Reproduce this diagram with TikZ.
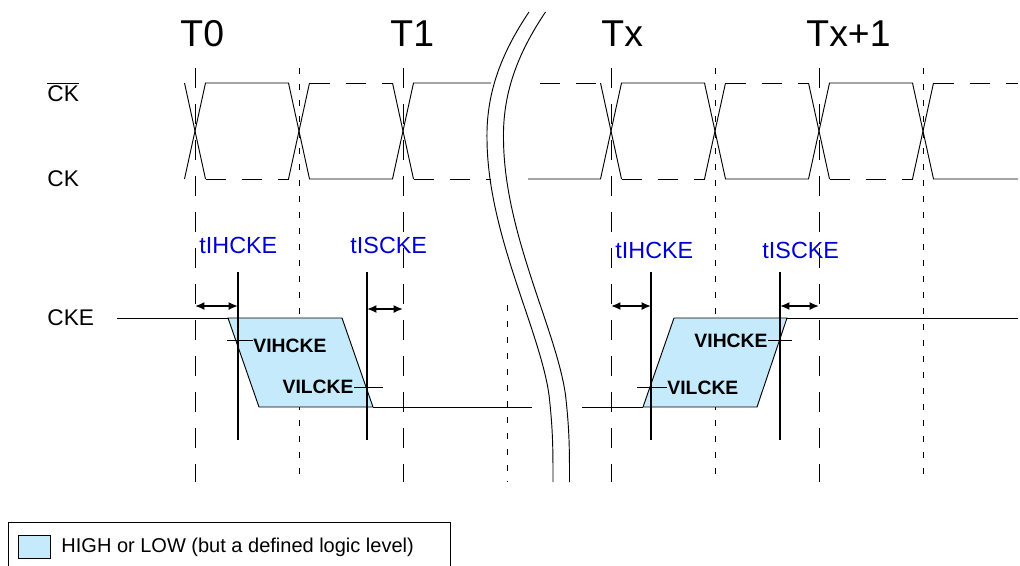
\documentclass[tikz,border=0pt]{standalone}
\usepackage{fontspec}
\setmainfont{Liberation Sans}
\usepackage{tikz}
\usetikzlibrary{arrows.meta,positioning}
\definecolor{levelfill}{RGB}{196,234,251}
\definecolor{timeblue}{RGB}{0,0,210}

\begin{document}
\begin{tikzpicture}[
		x=0.75pt, y=-0.75pt,
		line width=0.7pt,
		clocklbl/.style={inner sep=0pt, anchor=west, font=\fontsize{28}{30}\selectfont},
		siglbl/.style={inner sep=0pt, anchor=west, font=\fontsize{17}{19}\selectfont},
		timelbl/.style={inner sep=0pt, anchor=west, text=timeblue, font=\fontsize{17.5}{19}\selectfont},
		vlbl/.style={inner sep=0pt, font=\bfseries\fontsize{14.5}{16}\selectfont},
		longdash/.style={dash pattern=on 15pt off 12pt},
		shortdash/.style={dash pattern=on 4.5pt off 7.5pt},
		refline/.style={line width=2.2pt},
		span/.style={{Latex[length=7pt,width=6pt]}-{Latex[length=7pt,width=6pt]}, line width=1.3pt},
		level/.style={fill=levelfill}
		]
	\useasboundingbox (0,0) rectangle (1020,565);

	% --- Libellés ---
	\node[clocklbl] (T0) at (180,34) {T0};
	\node[clocklbl] (T1) at (390,34) {T1};
	\node[clocklbl] (Tx) at (601,34) {Tx};
	\node[clocklbl] (Tx1) at (806,34) {Tx+1};
	\node[siglbl] (CKb) at (47,92) {$\overline{\hbox{CK}}$};
	\node[siglbl] (CK) at (47,179) {CK};
	\node[siglbl] (CKE) at (47,318) {CKE};

	% --- Verticales ---
	\draw[longdash] (195,68) -- (195,482);
	\draw[longdash] (403,68) -- (403,482);
	\draw[longdash] (611,68) -- (611,482);
	\draw[longdash] (819,68) -- (819,482);
	\draw[shortdash] (299,68) -- (299,482);
	\draw[shortdash] (507,305) -- (507,482);
	\draw[shortdash] (715,68) -- (715,482);
	\draw[shortdash] (923,68) -- (923,482);

	% --- CK (trait plein) ---
	\draw (184.5,179) -- (205.5,83) -- (288.5,83) -- (309.5,179) -- (392.5,179)
		-- (413.5,83) -- (491,83);
	\draw (528,179) -- (600.5,179) -- (621.5,83) -- (704.5,83) -- (725.5,179)
		-- (808.5,179) -- (829.5,83) -- (912.5,83) -- (933.5,179) -- (1018,179);

	% --- CK# (paliers en tirets) ---
	\draw (184.5,83) -- (205.5,179);
	\draw (288.5,179) -- (309.5,83);
	\draw (392.5,83) -- (413.5,179);
	\draw (600.5,83) -- (621.5,179);
	\draw (704.5,179) -- (725.5,83);
	\draw (808.5,83) -- (829.5,179);
	\draw (912.5,179) -- (933.5,83);
	\draw[longdash] (205.5,179) -- (288.5,179);
	\draw[longdash] (309.5,83) -- (392.5,83);
	\draw[longdash] (413.5,179) -- (491,179);
	\draw[longdash] (540,83) -- (600.5,83);
	\draw[longdash] (621.5,179) -- (704.5,179);
	\draw[longdash] (725.5,83) -- (808.5,83);
	\draw[longdash] (829.5,179) -- (912.5,179);
	\draw[longdash] (933.5,83) -- (1018,83);

	% --- Coupure ---
	\draw (529,12) .. controls (500,55) and (486,95) .. (487,140)
		.. controls (488,235) and (540,330) .. (549,395)
		.. controls (553,430) and (553,450) .. (553,482);
	\draw (545.5,12) .. controls (516.5,55) and (502.5,95) .. (503.5,140)
		.. controls (504.5,235) and (556.5,330) .. (565.5,395)
		.. controls (569.5,430) and (569.5,450) .. (569.5,482);

	% --- CKE ---
	\draw[level] (228,318) -- (342,318) -- (373,407) -- (259,407) -- cycle;
	\draw (117,318) -- (228,318);
	\draw (373,407) -- (532,407);
	\draw[level] (643,407) -- (674,318) -- (787,318) -- (757,407) -- cycle;
	\draw (582,407) -- (643,407);
	\draw (787,318) -- (1018,318);

	% Repères
	\draw[refline] (238,272) -- (238,440);
	\draw[refline] (367,272) -- (367,440);
	\draw[refline] (651,272) -- (651,440);
	\draw[refline] (780,272) -- (780,440);

	% Seuils
	\node[vlbl, anchor=west] (VIH1) at (253,346) {VIHCKE};
	\node[vlbl, anchor=east] (VIL1) at (354,387) {VILCKE};
	\node[vlbl, anchor=east] (VIH2) at (768,341) {VIHCKE};
	\node[vlbl, anchor=west] (VIL2) at (667,388) {VILCKE};
	\coordinate (h1) at (227,340);
	\coordinate (l1) at (383,387);
	\coordinate (h2) at (792,340);
	\coordinate (l2) at (637,387);
	\draw (h1) -- (VIH1.west |- h1);
	\draw (l1) -- (VIL1.east |- l1);
	\draw (h2) -- (VIH2.east |- h2);
	\draw (l2) -- (VIL2.west |- l2);

	% Temps
	\node[timelbl] (tIH1) at (199,245) {tIHCKE};
	\node[timelbl] (tIS1) at (350,245) {tISCKE};
	\node[timelbl] (tIH2) at (615,250) {tIHCKE};
	\node[timelbl] (tIS2) at (762,250) {tISCKE};
	\coordinate (a1) at (195,306);
	\coordinate (b1) at (238,306);
	\coordinate (a2) at (367,309);
	\coordinate (b2) at (403,309);
	\coordinate (a3) at (611,306);
	\coordinate (b3) at (651,306);
	\coordinate (a4) at (780,306);
	\coordinate (b4) at (819,306);
	\draw[span] (a1) -- (b1);
	\draw[span] (a2) -- (b2);
	\draw[span] (a3) -- (b3);
	\draw[span] (a4) -- (b4);

	% --- Légende ---
	\draw (8,570) -- (8,522) -- (450,522) -- (450,570);
	\draw[level, line width=0.5pt] (18,535) rectangle (50,558);
	\node[inner sep=0pt, anchor=west, font=\fontsize{15}{17}\selectfont] (leg) at (61,547)
		{HIGH or LOW (but a defined logic level)};

\end{tikzpicture}
\end{document}
